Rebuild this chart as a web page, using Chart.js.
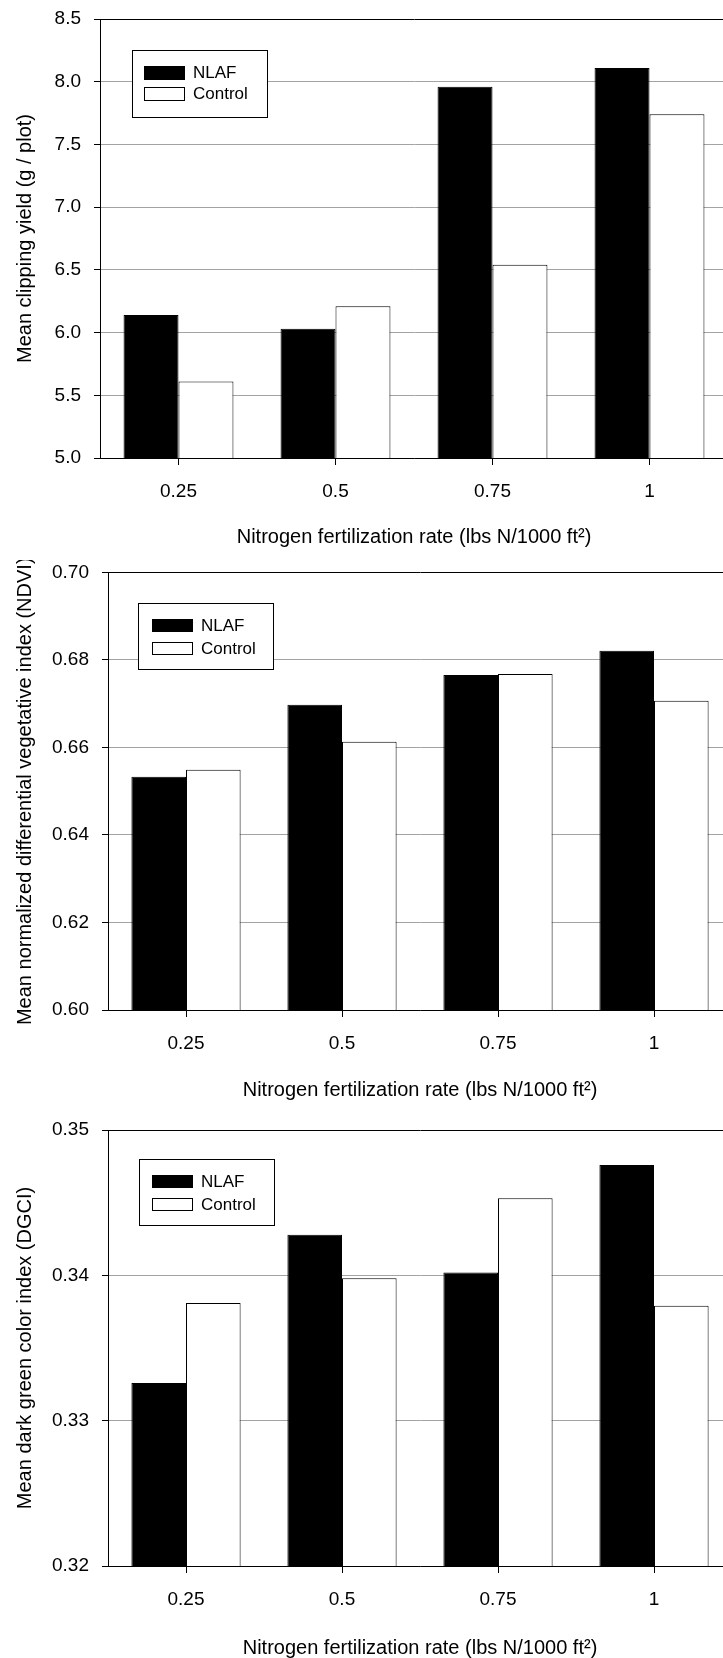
<!DOCTYPE html>
<html>
<head>
<meta charset="utf-8">
<script src="https://cdn.jsdelivr.net/npm/chart.js@4"></script>
<style>
  html, body { margin: 0; padding: 0; background: #fff; }
  body { width: 723px; height: 1658px; overflow: hidden; position: relative; }
  .panel { position: absolute; left: 0; width: 760px; height: 560px; }
</style>
</head>
<body>
<div class="panel" style="top:0"><canvas id="yieldChart" width="760" height="560"></canvas></div>
<div class="panel" style="top:560px"><canvas id="ndviChart" width="760" height="560"></canvas></div>
<div class="panel" style="top:1120px"><canvas id="dgciChart" width="760" height="560"></canvas></div>
<script>
const categories = ['0.25', '0.5', '0.75', '1'];
const seriesNames = ['NLAF', 'Control'];

const yieldNLAF = [6.14, 6.03, 7.96, 8.11];
const yieldControl = [5.61, 6.21, 6.54, 7.74];

const ndviNLAF = [0.6533, 0.6698, 0.6766, 0.6821];
const ndviControl = [0.6549, 0.6613, 0.6768, 0.6707];

const dgciNLAF = [0.3326, 0.3428, 0.3402, 0.3476];
const dgciControl = [0.3381, 0.3398, 0.3453, 0.3379];

const xTitle = 'Nitrogen fertilization rate (lbs N/1000 ft\u00B2)';
const FONT = "'Liberation Sans', Arial, sans-serif";

// legend box drawn inside the plot, like the original figure
const boxLegend = {
  id: 'boxLegend',
  afterDraw(chart, args, opts) {
    const ctx = chart.ctx;
    const b = opts.box;
    ctx.save();
    ctx.fillStyle = '#fff';
    ctx.fillRect(b[0], b[1], b[2], b[3]);
    ctx.strokeStyle = '#000';
    ctx.lineWidth = 1;
    ctx.strokeRect(b[0] + 0.5, b[1] + 0.5, b[2], b[3]);
    ctx.font = '17px ' + FONT;
    ctx.textBaseline = 'middle';
    chart.data.datasets.forEach((ds, i) => {
      const y = opts.rows[i];
      ctx.fillStyle = ds.backgroundColor;
      ctx.fillRect(opts.swatchX, y, opts.swatchW, opts.swatchH);
      ctx.strokeStyle = '#000';
      ctx.strokeRect(opts.swatchX + 0.5, y + 0.5, opts.swatchW, opts.swatchH);
      ctx.fillStyle = '#000';
      ctx.fillText(ds.label, opts.textX, y + opts.swatchH / 2 + 1);
    });
    ctx.restore();
  }
};

function makeChart(id, nlaf, control, yMin, yMax, step, digits, yTitle, lay, legend) {
  const W = 760, H = 560;
  return new Chart(document.getElementById(id), {
    type: 'bar',
    data: {
      labels: categories,
      datasets: [
        { label: seriesNames[0], data: nlaf, backgroundColor: '#000', borderColor: '#000', borderWidth: 1 },
        { label: seriesNames[1], data: control, backgroundColor: '#fff', borderColor: '#000', borderWidth: 1 }
      ]
    },
    options: {
      responsive: false,
      animation: false,
      devicePixelRatio: 1,
      categoryPercentage: 0.7,
      barPercentage: 1.0,
      layout: { padding: { top: lay.top, right: W - lay.right, bottom: lay.pb, left: 0 } },
      plugins: {
        legend: { display: false },
        tooltip: { enabled: false },
        boxLegend: legend
      },
      scales: {
        x: {
          offset: true,
          grid: { offset: false, drawOnChartArea: false, drawTicks: true, tickLength: 7, tickColor: '#000' },
          border: { color: '#000', width: 1 },
          ticks: { color: '#000', padding: 15, font: { family: FONT, size: 19 } },
          title: { display: true, text: xTitle, color: '#000', padding: 0, font: { family: FONT, size: 20 } },
          afterFit(scale) { scale.height = H - lay.pb - lay.bottom; }
        },
        y: {
          min: yMin,
          max: yMax,
          grid: {
            color: (c) => (c.tick && Math.abs(c.tick.value - yMax) < 1e-9) ? '#000' : '#a3a3a3',
            tickColor: '#000',
            tickLength: 6
          },
          border: { color: '#000', width: 1 },
          ticks: {
            stepSize: step,
            color: '#000',
            padding: 13,
            font: { family: FONT, size: 19, lineHeight: 1 },
            callback: (v) => Number(v).toFixed(digits)
          },
          title: { display: true, text: yTitle, color: '#000', padding: { top: 13, bottom: 0 }, font: { family: FONT, size: 20 } },
          afterFit(scale) {
            scale.width = lay.left;
            scale.paddingTop = 0;
            scale.paddingBottom = 0;
          }
        }
      }
    },
    plugins: [boxLegend]
  });
}

makeChart('yieldChart', yieldNLAF, yieldControl, 5.0, 8.5, 0.5, 1,
  'Mean clipping yield (g / plot)',
  { left: 100, top: 19, right: 728, bottom: 458, pb: 11 },
  { box: [132, 50, 135, 67], swatchX: 144, swatchW: 40, swatchH: 13, rows: [66, 87], textX: 193 });

makeChart('ndviChart', ndviNLAF, ndviControl, 0.60, 0.70, 0.02, 2,
  'Mean normalized differential vegetative index (NDVI)',
  { left: 108, top: 12.5, right: 732, bottom: 450, pb: 18 },
  { box: [138, 43, 135, 66], swatchX: 152, swatchW: 40, swatchH: 12, rows: [59, 82], textX: 201 });

makeChart('dgciChart', dgciNLAF, dgciControl, 0.32, 0.35, 0.01, 2,
  'Mean dark green color index (DGCI)',
  { left: 108, top: 10, right: 732, bottom: 446, pb: 19.5 },
  { box: [139, 39, 135, 66], swatchX: 152, swatchW: 40, swatchH: 12, rows: [55, 78], textX: 201 });
</script>
</body>
</html>
